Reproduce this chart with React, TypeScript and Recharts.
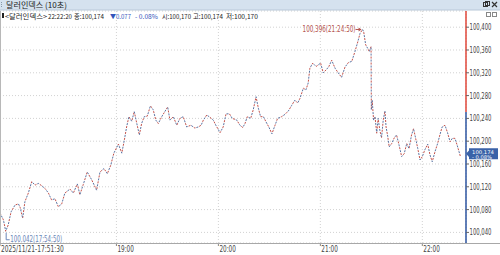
import { LineChart, Line, XAxis, YAxis, CartesianGrid, ReferenceLine, ReferenceDot } from 'recharts';

// 10초봉 달러인덱스, 2025/11/21
const TIMES = [
  '17:51:30', '17:53:30', '17:54:20', '17:54:50', '17:56:20', '17:58:00',
  '18:00:20', '18:02:20', '18:03:20', '18:04:50', '18:06:10', '18:08:10',
  '18:10:10', '18:12:10', '18:14:00', '18:16:00', '18:18:00', '18:20:00',
  '18:21:50', '18:23:50', '18:25:50', '18:27:50', '18:29:40', '18:32:40',
  '18:34:40', '18:37:00', '18:38:30', '18:40:30', '18:42:50', '18:45:30',
  '18:48:20', '18:50:20', '18:52:40', '18:54:40', '18:56:40', '18:58:30',
  '19:01:10', '19:03:10', '19:04:40', '19:06:00', '19:07:20', '19:09:00',
  '19:10:30', '19:12:00', '19:13:30', '19:14:50', '19:16:20', '19:18:10',
  '19:20:00', '19:21:40', '19:23:10', '19:24:40', '19:26:40', '19:28:30',
  '19:30:10', '19:31:30', '19:33:30', '19:35:30', '19:37:20', '19:39:20',
  '19:41:20', '19:43:50', '19:46:10', '19:48:10', '19:49:50', '19:51:10',
  '19:53:10', '19:55:00', '19:57:00', '19:58:30', '20:01:00', '20:02:50',
  '20:04:30', '20:06:30', '20:08:10', '20:10:50', '20:12:40', '20:14:20',
  '20:15:40', '20:17:00', '20:19:00', '20:20:30', '20:22:10', '20:23:30',
  '20:24:50', '20:26:30', '20:28:00', '20:29:40', '20:31:30', '20:33:20',
  '20:34:50', '20:37:10', '20:39:10', '20:41:10', '20:43:10', '20:45:00',
  '20:46:40', '20:48:00', '20:50:00', '20:51:30', '20:52:50', '20:53:50',
  '20:55:30', '20:57:30', '20:58:50', '21:00:10', '21:01:40', '21:03:40',
  '21:05:00', '21:06:40', '21:08:40', '21:10:30', '21:12:30', '21:14:30',
  '21:16:30', '21:18:30', '21:20:20', '21:22:00', '21:23:20', '21:24:50',
  '21:25:30', '21:26:40', '21:27:50', '21:28:50', '21:29:50', '21:30:00',
  '21:30:30', '21:31:20', '21:32:10', '21:33:10', '21:34:00', '21:35:00',
  '21:36:00', '21:37:00', '21:38:00', '21:38:40', '21:39:40', '21:40:30',
  '21:42:00', '21:43:30', '21:44:50', '21:46:20', '21:47:50', '21:49:20',
  '21:50:50', '21:52:10', '21:53:40', '21:54:50', '21:56:00', '21:57:20',
  '21:58:40', '22:00:00', '22:01:30', '22:03:10', '22:04:30', '22:05:50',
  '22:07:30', '22:09:00', '22:10:20', '22:11:40', '22:13:20', '22:14:50',
  '22:16:20', '22:17:40', '22:19:10', '22:20:30', '22:22:20',
];

const CLOSES = [
  100.074, 100.062, 100.050, 100.042, 100.053, 100.076,
  100.088, 100.090, 100.084, 100.065, 100.094, 100.109,
  100.129, 100.123, 100.126, 100.122, 100.117, 100.109,
  100.097, 100.099, 100.085, 100.090, 100.109, 100.116,
  100.109, 100.125, 100.106, 100.124, 100.146, 100.132,
  100.114, 100.146, 100.152, 100.143, 100.158, 100.179,
  100.195, 100.179, 100.202, 100.225, 100.243, 100.235,
  100.252, 100.231, 100.211, 100.231, 100.243, 100.244,
  100.262, 100.255, 100.237, 100.231, 100.243, 100.252,
  100.260, 100.237, 100.243, 100.228, 100.240, 100.243,
  100.225, 100.228, 100.223, 100.225, 100.228, 100.237,
  100.246, 100.242, 100.237, 100.228, 100.215, 100.225,
  100.248, 100.248, 100.240, 100.237, 100.228, 100.224,
  100.231, 100.243, 100.240, 100.255, 100.278, 100.258,
  100.243, 100.243, 100.234, 100.225, 100.213, 100.228,
  100.240, 100.243, 100.247, 100.253, 100.263, 100.272,
  100.267, 100.275, 100.293, 100.290, 100.302, 100.328,
  100.337, 100.331, 100.334, 100.337, 100.320, 100.326,
  100.331, 100.342, 100.328, 100.320, 100.312, 100.330,
  100.338, 100.340, 100.357, 100.374, 100.389, 100.396,
  100.392, 100.369, 100.363, 100.357, 100.366, 100.255,
  100.272, 100.237, 100.243, 100.214, 100.240, 100.219,
  100.206, 100.237, 100.253, 100.225, 100.208, 100.190,
  100.196, 100.206, 100.211, 100.193, 100.173, 100.178,
  100.196, 100.187, 100.211, 100.222, 100.206, 100.187,
  100.167, 100.173, 100.185, 100.195, 100.176, 100.164,
  100.182, 100.196, 100.211, 100.225, 100.228, 100.215,
  100.199, 100.205, 100.205, 100.193, 100.174,
];

const X_TICKS = ['17:51:30', '19:00:00', '20:00:00', '21:00:00', '22:00:00'];
const X_LABELS = ['2025/11/21-17:51:30', '19:00', '20:00', '21:00', '22:00'];
const Y_TICKS = [100.04, 100.08, 100.12, 100.16, 100.2, 100.24, 100.28, 100.32, 100.36, 100.4];

const PREV_CLOSE = 100.251;
const LAST = 100.174;
const HIGH = { time: '21:24:50', value: 100.396 };
const LOW = { time: '17:54:50', value: 100.042 };
const X_END = '22:25:42';
const Y_DOMAIN = [100.0214, 100.4284];

const FONT = "'Liberation Sans Narrow', 'DejaVu Sans Condensed', 'Liberation Sans', sans-serif";
const KFONT = "'Noto Sans CJK KR', sans-serif";
const RED = '#c4524b';
const BLUE = '#5a74a3';

const toSec = (s: string) => {
  const [h, m, sec] = s.split(':').map(Number);
  return h * 3600 + m * 60 + (sec || 0);
};

const data = TIMES.map((t, i) => ({ t: toSec(t), v: CLOSES[i] }));
const xTickSecs = X_TICKS.map(toSec);
const xStart = xTickSecs[0];
const xEnd = toSec(X_END);

function XTick(props: any) {
  const { x, y, payload } = props;
  const idx = xTickSecs.indexOf(payload.value);
  const label = X_LABELS[idx] ?? '';
  return (
    <text x={x + 1} y={y + 6} fontSize={8} fill="#444" fontFamily={FONT}
      textLength={label.length * 3.3} lengthAdjust="spacingAndGlyphs">
      {label}
    </text>
  );
}

function YTick(props: any) {
  const { x, y, payload } = props;
  const label = Number(payload.value).toFixed(3).replace('.', ',');
  return (
    <text x={x + 0.5} y={y + 3} fontSize={8} fill="#444" fontFamily={FONT}
      textLength={22} lengthAdjust="spacingAndGlyphs">
      {label}
    </text>
  );
}

function HighMark({ cx, cy }: any) {
  const label = HIGH.value.toFixed(3).replace('.', ',') + '(' + HIGH.time + ')';
  return (
    <g>
      <text x={cx - 7} y={cy + 2.5} textAnchor="end" fontSize={8} fill="#b5544e" fontFamily={FONT}
        textLength={53} lengthAdjust="spacingAndGlyphs">{label}</text>
      <line x1={cx - 7} x2={cx - 2} y1={cy} y2={cy} stroke="#b5544e" />
      <path d={`M${cx - 1},${cy} l-3,-2 l0,4 z`} fill="#b5544e" />
    </g>
  );
}

function LowMark({ cx, cy }: any) {
  const label = LOW.value.toFixed(3) + '(' + LOW.time + ')';
  return (
    <g>
      <path d={`M${cx + 0.5},${cy + 1.5} L${cx + 0.5},${cy + 8.5} L${cx + 4},${cy + 8.5}`} stroke="#6a86b8" fill="none" />
      <text x={cx + 4.5} y={cy + 10.5} fontSize={8} fill="#6a86b8" fontFamily={FONT}
        textLength={52} lengthAdjust="spacingAndGlyphs">{label}</text>
    </g>
  );
}

function LastMark({ cx, cy }: any) {
  const pct = (((LAST - PREV_CLOSE) / PREV_CLOSE) * 100).toFixed(2);
  return (
    <g>
      <path d={`M${cx},${cy - 2.2} L${cx + 3},${cy - 5.5} L${cx + 3},${cy - 7.7} L${cx + 32},${cy - 7.7} L${cx + 32},${cy + 3.3} L${cx + 3},${cy + 3.3} L${cx + 3},${cy + 1} Z`} fill="#3a62a8" />
      <text x={cx + 6} y={cy - 2.3} fontSize={5} fill="#fff" fontFamily={FONT}
        textLength={22} lengthAdjust="spacingAndGlyphs">{LAST.toFixed(3).replace('.', ',')}</text>
      <text x={cx + 6} y={cy + 2.7} fontSize={5} fill="#fff" fontFamily={FONT}
        textLength={20} lengthAdjust="spacingAndGlyphs">{'- ' + Math.abs(Number(pct)).toFixed(2) + '%'}</text>
    </g>
  );
}

function Header() {
  return (
    <svg width={500} height={255} style={{ position: 'absolute', left: 0, top: 0, pointerEvents: 'none' }}>
      <rect x={0} y={0} width={500} height={10} fill="#d5e2ef" />
      <line x1={0} x2={500} y1={10} y2={10} stroke="#b8c8d8" />
      <line x1={1.5} x2={1.5} y1={2} y2={8} stroke="#8899aa" strokeDasharray="1 1" />
      <text x={6} y={8} fontSize={8} fill="#222" fontFamily={KFONT} textLength={61} lengthAdjust="spacingAndGlyphs">달러인덱스 (10초)</text>
      <rect x={483.5} y={2.5} width={4} height={4} fill="none" stroke="#333" />
      <rect x={485.5} y={1.5} width={4} height={4} fill="none" stroke="#333" />
      <path d="M492,2 L497,7 M497,2 L492,7" stroke="#333" strokeWidth={1.2} />
      <rect x={486.5} y={12.5} width={4} height={4} fill="none" stroke="#888" />
      <rect x={492.5} y={12.5} width={4} height={4} fill="none" stroke="#888" />
      <rect x={2} y={13} width={2} height={5} fill="#222" />
      <g fontSize={6.5} fontFamily={KFONT} fill="#222">
        <text x={5} y={18.5} textLength={42} lengthAdjust="spacingAndGlyphs">{'<달러인덱스>'}</text>
        <text x={48} y={18.5} textLength={24} lengthAdjust="spacingAndGlyphs">22:22:20</text>
        <text x={74} y={18.5} textLength={30} lengthAdjust="spacingAndGlyphs">종:100,174</text>
        <text x={110} y={18.5} textLength={21} lengthAdjust="spacingAndGlyphs" fill="#3355bb">▼0.077</text>
        <text x={135} y={18.5} textLength={23} lengthAdjust="spacingAndGlyphs" fill="#3355bb">- 0.08%</text>
        <text x={162} y={18.5} textLength={29} lengthAdjust="spacingAndGlyphs">시:100,170</text>
        <text x={193} y={18.5} textLength={30} lengthAdjust="spacingAndGlyphs">고:100,174</text>
        <text x={226} y={18.5} textLength={32} lengthAdjust="spacingAndGlyphs">저:100,170</text>
      </g>
      <line x1={0.5} x2={0.5} y1={11} y2={243} stroke="#b8b8b8" />
      <line x1={0} x2={500} y1={243.5} y2={243.5} stroke="#a8a8a8" />
    </svg>
  );
}

export default function App() {
  return (
    <div style={{ position: 'absolute', left: 0, top: 0, width: 500, height: 255, background: '#fff' }}>
      <LineChart width={500} height={255} data={data} margin={{ top: 11, right: 0, bottom: 0, left: 0 }}>
        <CartesianGrid stroke="#d2d2d2" strokeDasharray="1 2" />
        <XAxis
          dataKey="t"
          type="number"
          domain={[xStart, xEnd]}
          ticks={xTickSecs}
          interval={0}
          allowDataOverflow
          height={12}
          axisLine={false}
          tickLine={{ stroke: '#888' }}
          tickSize={3}
          tickMargin={0}
          tick={XTick}
        />
        <YAxis
          orientation="right"
          width={34}
          type="number"
          domain={Y_DOMAIN}
          ticks={Y_TICKS}
          interval={0}
          allowDataOverflow
          axisLine={false}
          tickLine={{ stroke: '#666' }}
          tickSize={3}
          tickMargin={0}
          tick={YTick}
        />
        <Line dataKey="v" stroke={RED} strokeWidth={1} strokeDasharray="2 4" dot={false} activeDot={false} isAnimationActive={false} />
        <Line dataKey="v" stroke={BLUE} strokeWidth={1} strokeDasharray="2 4" strokeDashoffset={3} dot={false} activeDot={false} isAnimationActive={false} />
        <ReferenceLine segment={[{ x: xEnd, y: PREV_CLOSE }, { x: xEnd, y: Y_DOMAIN[1] }]} stroke="#e0473a" strokeWidth={1.5} />
        <ReferenceLine segment={[{ x: xEnd, y: Y_DOMAIN[0] }, { x: xEnd, y: PREV_CLOSE }]} stroke="#2d55a0" strokeWidth={1.5} />
        <ReferenceDot x={toSec(HIGH.time)} y={HIGH.value} r={0} shape={HighMark} />
        <ReferenceDot x={toSec(LOW.time)} y={LOW.value} r={0} shape={LowMark} />
        <ReferenceDot x={xEnd} y={LAST} r={0} shape={LastMark} />
      </LineChart>
      <Header />
    </div>
  );
}
